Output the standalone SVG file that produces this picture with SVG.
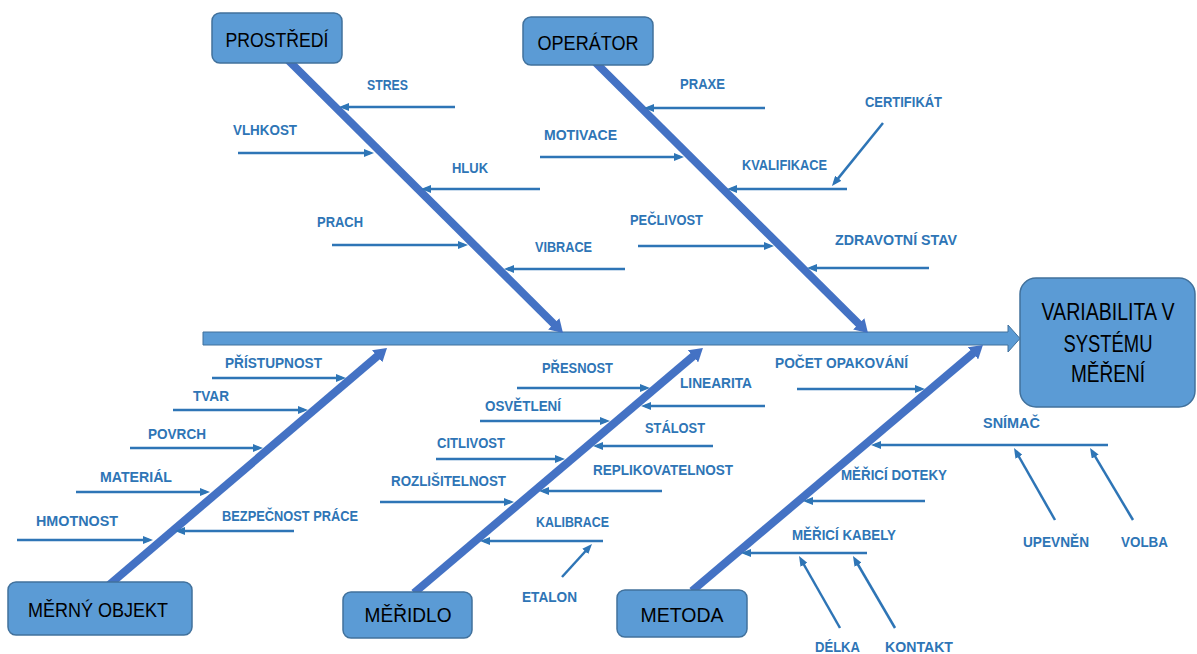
<svg xmlns="http://www.w3.org/2000/svg" width="1197" height="654" viewBox="0 0 1197 654">
<defs>
<style>
.box{fill:#5B9BD5;stroke:#41719C;stroke-width:1.5}
.cat{font-family:"Liberation Sans",Arial,sans-serif;font-size:21px;fill:#000;text-anchor:middle}
.lbl{font-family:"Liberation Sans",Arial,sans-serif;font-size:14.5px;font-weight:bold;fill:#2E75B6}
.bone{stroke:#4472C4;stroke-width:8;fill:none}
.sa{stroke:#2E75B6;stroke-width:2.5;fill:none;marker-end:url(#sm)}
</style>
<marker id="big" viewBox="0 0 13 16" markerWidth="13" markerHeight="16" refX="3" refY="8" orient="auto" markerUnits="userSpaceOnUse"><path d="M0,0 L13,8 L0,16 z" fill="#4472C4"/></marker>
<marker id="sm" viewBox="0 0 10 8" markerWidth="10" markerHeight="8" refX="6" refY="4" orient="auto" markerUnits="userSpaceOnUse"><path d="M0,0 L10,4 L0,8 z" fill="#2E75B6"/></marker>
</defs>
<rect width="1197" height="654" fill="#fff"/>
<g id="connectors">
<path id="spine" d="M203,332 L1008,332 L1008,325 L1020,338.5 L1008,352 L1008,345 L203,345 z" fill="#5B9BD5" stroke="#41719C" stroke-width="1"/>
<path class="bone" d="M288,60 L555.9,326" marker-end="url(#big)"/>
<path class="bone" d="M595,62 L860.9,326" marker-end="url(#big)"/>
<path class="bone" d="M109,585 L379.4,354.4" marker-end="url(#big)"/>
<path class="bone" d="M414,593 L695.3,354.4" marker-end="url(#big)"/>
<path class="bone" d="M692,591 L975.3,351.4" marker-end="url(#big)"/>
<path class="sa" d="M455,107 L343,107"/>
<path class="sa" d="M238,153 L370,153"/>
<path class="sa" d="M540,189 L425,189"/>
<path class="sa" d="M332,245 L464,245"/>
<path class="sa" d="M625,269 L508,269"/>
<path class="sa" d="M765,108 L648,108"/>
<path class="sa" d="M540,157 L680,157"/>
<path class="sa" d="M847,189 L731,189"/>
<path class="sa" d="M638,246 L770,246"/>
<path class="sa" d="M929,268 L811,268"/>
<path class="sa" d="M883,123 L834.5,182.9"/>
<path class="sa" d="M212,378 L342,378"/>
<path class="sa" d="M173,410 L304,410"/>
<path class="sa" d="M130,448 L259,448"/>
<path class="sa" d="M76,492 L206,492"/>
<path class="sa" d="M17,540 L149,540"/>
<path class="sa" d="M294,531 L179,531"/>
<path class="sa" d="M517,388 L646,388"/>
<path class="sa" d="M765,406 L645,406"/>
<path class="sa" d="M480,421 L606,421"/>
<path class="sa" d="M713,446 L597,446"/>
<path class="sa" d="M436,459 L561,459"/>
<path class="sa" d="M662,491 L543,491"/>
<path class="sa" d="M380,502 L510,502"/>
<path class="sa" d="M603,541 L484,541"/>
<path class="sa" d="M562,577 L589.3,547"/>
<path class="sa" d="M797,389 L921,389"/>
<path class="sa" d="M1108,445 L875,445"/>
<path class="sa" d="M1055,520 L1016,451.5"/>
<path class="sa" d="M1133,520 L1092.1,451.4"/>
<path class="sa" d="M925,501 L807,501"/>
<path class="sa" d="M867,553 L745,553"/>
<path class="sa" d="M840,628 L801,559.5"/>
<path class="sa" d="M895,628 L855,559.5"/>
</g>
<g id="prostredi">
<rect class="box" x="212" y="13" width="130" height="50" rx="8"/>
<text class="cat" x="277" y="47" textLength="103" lengthAdjust="spacingAndGlyphs">PROSTŘEDÍ</text>
</g>
<g id="operator">
<rect class="box" x="523" y="17" width="130" height="48" rx="8"/>
<text class="cat" x="588" y="50" textLength="101" lengthAdjust="spacingAndGlyphs">OPERÁTOR</text>
</g>
<g id="merny-objekt">
<rect class="box" x="8" y="582" width="184" height="53" rx="8"/>
<text class="cat" x="98" y="617" textLength="140" lengthAdjust="spacingAndGlyphs">MĚRNÝ OBJEKT</text>
</g>
<g id="meridlo">
<rect class="box" x="343" y="592" width="129" height="46" rx="8"/>
<text class="cat" x="408" y="622" textLength="87" lengthAdjust="spacingAndGlyphs">MĚŘIDLO</text>
</g>
<g id="metoda">
<rect class="box" x="617" y="590" width="130" height="47" rx="8"/>
<text class="cat" x="682" y="622" textLength="83" lengthAdjust="spacingAndGlyphs">METODA</text>
</g>
<g id="vysledek">
<rect class="box" x="1020" y="278" width="175" height="129" rx="16"/>
<text class="cat" x="1108" y="320" style="font-size:23px" textLength="133" lengthAdjust="spacingAndGlyphs">VARIABILITA V</text>
<text class="cat" x="1108" y="352" style="font-size:23px" textLength="89" lengthAdjust="spacingAndGlyphs">SYSTÉMU</text>
<text class="cat" x="1108" y="382" style="font-size:23px" textLength="74" lengthAdjust="spacingAndGlyphs">MĚŘENÍ</text>
</g>
<g id="labels-prostredi">
<text class="lbl" x="367" y="90" textLength="41" lengthAdjust="spacingAndGlyphs">STRES</text>
<text class="lbl" x="233" y="135" textLength="64" lengthAdjust="spacingAndGlyphs">VLHKOST</text>
<text class="lbl" x="452" y="173" textLength="36" lengthAdjust="spacingAndGlyphs">HLUK</text>
<text class="lbl" x="317" y="227" textLength="46" lengthAdjust="spacingAndGlyphs">PRACH</text>
<text class="lbl" x="535" y="252" textLength="57" lengthAdjust="spacingAndGlyphs">VIBRACE</text>
</g>
<g id="labels-operator">
<text class="lbl" x="680" y="89" textLength="45" lengthAdjust="spacingAndGlyphs">PRAXE</text>
<text class="lbl" x="544" y="140" textLength="73" lengthAdjust="spacingAndGlyphs">MOTIVACE</text>
<text class="lbl" x="865" y="107" textLength="77" lengthAdjust="spacingAndGlyphs">CERTIFIKÁT</text>
<text class="lbl" x="742" y="170" textLength="85" lengthAdjust="spacingAndGlyphs">KVALIFIKACE</text>
<text class="lbl" x="630" y="225" textLength="73" lengthAdjust="spacingAndGlyphs">PEČLIVOST</text>
<text class="lbl" x="835" y="245" textLength="122" lengthAdjust="spacingAndGlyphs">ZDRAVOTNÍ STAV</text>
</g>
<g id="labels-merny-objekt">
<text class="lbl" x="225" y="368" textLength="97" lengthAdjust="spacingAndGlyphs">PŘÍSTUPNOST</text>
<text class="lbl" x="193" y="401" textLength="36" lengthAdjust="spacingAndGlyphs">TVAR</text>
<text class="lbl" x="148" y="439" textLength="58" lengthAdjust="spacingAndGlyphs">POVRCH</text>
<text class="lbl" x="100" y="482" textLength="72" lengthAdjust="spacingAndGlyphs">MATERIÁL</text>
<text class="lbl" x="36" y="526" textLength="82" lengthAdjust="spacingAndGlyphs">HMOTNOST</text>
<text class="lbl" x="222" y="521" textLength="136" lengthAdjust="spacingAndGlyphs">BEZPEČNOST PRÁCE</text>
</g>
<g id="labels-meridlo">
<text class="lbl" x="542" y="373" textLength="71" lengthAdjust="spacingAndGlyphs">PŘESNOST</text>
<text class="lbl" x="680" y="388" textLength="72" lengthAdjust="spacingAndGlyphs">LINEARITA</text>
<text class="lbl" x="485" y="411" textLength="76" lengthAdjust="spacingAndGlyphs">OSVĚTLENÍ</text>
<text class="lbl" x="645" y="433" textLength="60" lengthAdjust="spacingAndGlyphs">STÁLOST</text>
<text class="lbl" x="437" y="448" textLength="68" lengthAdjust="spacingAndGlyphs">CITLIVOST</text>
<text class="lbl" x="593" y="475" textLength="140" lengthAdjust="spacingAndGlyphs">REPLIKOVATELNOST</text>
<text class="lbl" x="391" y="486" textLength="115" lengthAdjust="spacingAndGlyphs">ROZLIŠITELNOST</text>
<text class="lbl" x="536" y="527" textLength="73" lengthAdjust="spacingAndGlyphs">KALIBRACE</text>
<text class="lbl" x="522" y="602" textLength="55" lengthAdjust="spacingAndGlyphs">ETALON</text>
</g>
<g id="labels-metoda">
<text class="lbl" x="775" y="368" textLength="133" lengthAdjust="spacingAndGlyphs">POČET OPAKOVÁNÍ</text>
<text class="lbl" x="983" y="428" textLength="57" lengthAdjust="spacingAndGlyphs">SNÍMAČ</text>
<text class="lbl" x="1023" y="547" textLength="66" lengthAdjust="spacingAndGlyphs">UPEVNĚN</text>
<text class="lbl" x="1121" y="547" textLength="47" lengthAdjust="spacingAndGlyphs">VOLBA</text>
<text class="lbl" x="841" y="480" textLength="106" lengthAdjust="spacingAndGlyphs">MĚŘICÍ DOTEKY</text>
<text class="lbl" x="792" y="540" textLength="104" lengthAdjust="spacingAndGlyphs">MĚŘICÍ KABELY</text>
<text class="lbl" x="815" y="652" textLength="45" lengthAdjust="spacingAndGlyphs">DÉLKA</text>
<text class="lbl" x="885" y="652" textLength="68" lengthAdjust="spacingAndGlyphs">KONTAKT</text>
</g>
</svg>
